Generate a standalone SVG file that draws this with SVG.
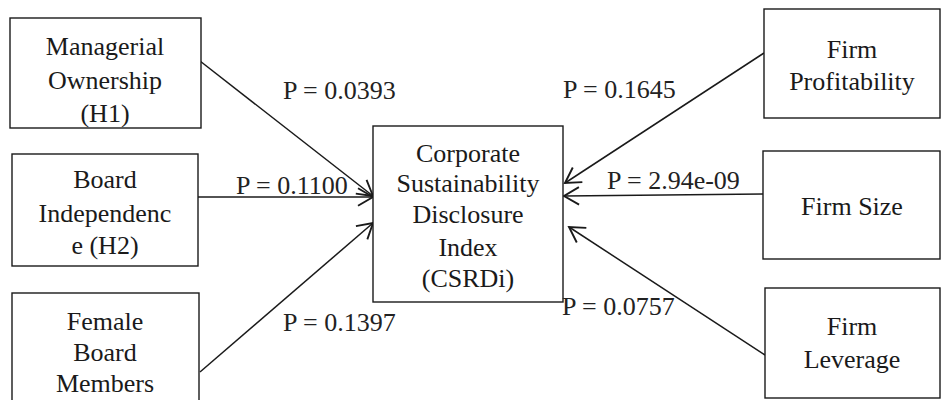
<svg xmlns="http://www.w3.org/2000/svg" width="941" height="400" viewBox="0 0 941 400">
<style>
.box{fill:#fff;stroke:#1a1a1a;stroke-width:1.4}
.t{font-family:"Liberation Serif","Times New Roman",serif;font-size:26px;fill:#1a1a1a;text-anchor:middle}
.p{font-family:"Liberation Serif","Times New Roman",serif;font-size:26px;fill:#222}
.c{stroke:#1a1a1a;stroke-width:1.5;fill:none;marker-end:url(#ah)}
</style>
<defs>
<marker id="ah" markerUnits="userSpaceOnUse" markerWidth="20" markerHeight="20" refX="13" refY="8" orient="auto" viewBox="0 0 16 16">
<path d="M1,1 L13,8 L1,15" fill="none" stroke="#1a1a1a" stroke-width="1.5"/>
</marker>
</defs>
<g id="connectors">
<line class="c" x1="200" y1="61" x2="373" y2="196"/>
<line class="c" x1="198" y1="197" x2="373" y2="197"/>
<line class="c" x1="200" y1="372" x2="373" y2="223"/>
<line class="c" x1="764" y1="53" x2="565" y2="183"/>
<line class="c" x1="763" y1="194" x2="564" y2="196"/>
<line class="c" x1="765" y1="355" x2="569" y2="227"/>
</g>
<g id="n_mo"><rect class="box" x="10" y="18" width="191" height="110"/>
<text class="t" x="105" y="55">Managerial</text><text class="t" x="105" y="89">Ownership</text><text class="t" x="105" y="122">(H1)</text></g>
<g id="n_bi"><rect class="box" x="12" y="154" width="186" height="112"/>
<text class="t" x="105" y="188">Board</text><text class="t" x="105" y="222">Independenc</text><text class="t" x="105" y="254">e (H2)</text></g>
<g id="n_fb"><rect class="box" x="12" y="293" width="187" height="120"/>
<text class="t" x="105" y="330">Female</text><text class="t" x="105" y="361">Board</text><text class="t" x="105" y="392">Members</text></g>
<g id="n_csrdi"><rect class="box" x="373" y="126" width="190" height="176"/>
<text class="t" x="468" y="162">Corporate</text><text class="t" x="468" y="192">Sustainability</text><text class="t" x="468" y="223">Disclosure</text><text class="t" x="468" y="256">Index</text><text class="t" x="468" y="287">(CSRDi)</text></g>
<g id="n_fp"><rect class="box" x="764" y="9" width="176" height="109"/>
<text class="t" x="852" y="58">Firm</text><text class="t" x="852" y="90">Profitability</text></g>
<g id="n_fs"><rect class="box" x="763" y="151" width="177" height="108"/>
<text class="t" x="852" y="215">Firm Size</text></g>
<g id="n_fl"><rect class="box" x="765" y="288" width="175" height="110"/>
<text class="t" x="852" y="335">Firm</text><text class="t" x="852" y="368">Leverage</text></g>
<g id="labels">
<text class="p" x="283" y="99">P = 0.0393</text>
<text class="p" x="236" y="194">P = 0.1100</text>
<text class="p" x="283" y="331">P = 0.1397</text>
<text class="p" x="563" y="98">P = 0.1645</text>
<text class="p" x="607" y="189">P = 2.94e-09</text>
<text class="p" x="562" y="315">P = 0.0757</text>
</g>
</svg>
